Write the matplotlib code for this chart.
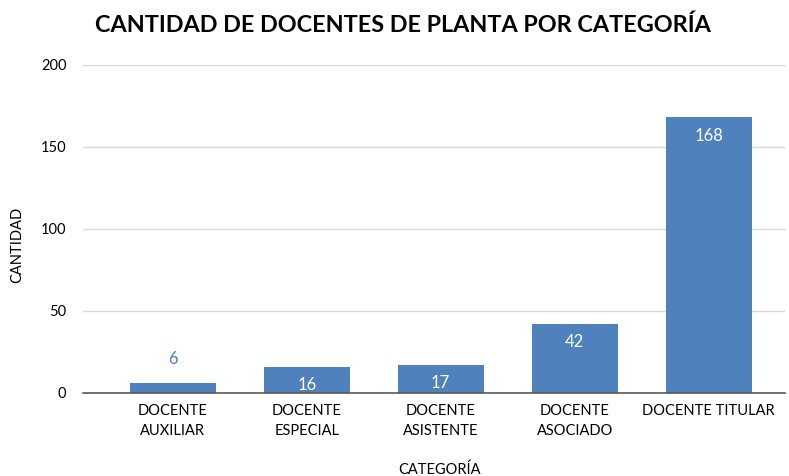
import numpy as np
import matplotlib.pyplot as plt

categorias = ["DOCENTE\nAUXILIAR", "DOCENTE\nESPECIAL", "DOCENTE\nASISTENTE",
              "DOCENTE\nASOCIADO", "DOCENTE TITULAR"]
cantidades = [6, 16, 17, 42, 168]
y_ticks = [0, 50, 100, 150, 200]

plt.rcParams['font.family'] = ['Lato', 'DejaVu Sans']

bar_color = '#4F81BD'

fig = plt.figure(figsize=(7.89, 4.76), dpi=100)
ax = fig.add_axes([83 / 789, 83 / 476, 702 / 789, 328 / 476])

x = np.arange(len(categorias))
bars = ax.bar(x, cantidades, width=0.64, color=bar_color, zorder=3)

for xi, val in zip(x, cantidades):
    if val < 10:
        ax.text(xi, val + 15, str(val), ha='center', va='center',
                fontsize=12, color='#4F7EC6')
    else:
        ax.text(xi, val - 11, str(val), ha='center', va='center',
                fontsize=12, color='white', zorder=4)

ax.set_xlim(-0.67, 4.57)
ax.set_ylim(0, 200)
ax.set_yticks(y_ticks)
ax.set_xticks(x)
ax.set_xticklabels(categorias, fontsize=10.5, linespacing=1.5)
ax.tick_params(axis='y', labelsize=10.5, length=0, pad=12)
ax.tick_params(axis='x', length=0, pad=8)

ax.grid(axis='y', color='#D9D9D9', linewidth=1, zorder=0)
for side in ['top', 'right', 'left']:
    ax.spines[side].set_visible(False)
ax.spines['bottom'].set_color('#595959')
ax.spines['bottom'].set_linewidth(1.2)
ax.spines['bottom'].set_zorder(4)

fig.text(403 / 789, 1 - 25 / 476, 'CANTIDAD DE DOCENTES DE PLANTA POR CATEGORÍA',
         ha='center', va='center', fontsize=16.8, fontweight='bold')
fig.text(17 / 789, 1 - 245 / 476, 'CANTIDAD', rotation=90, ha='center',
         va='center', fontsize=10.5)
fig.text(440 / 789, 1 - 470 / 476, 'CATEGORÍA', ha='center', va='center',
         fontsize=10.5)

fig.savefig('out.png', dpi=100)
